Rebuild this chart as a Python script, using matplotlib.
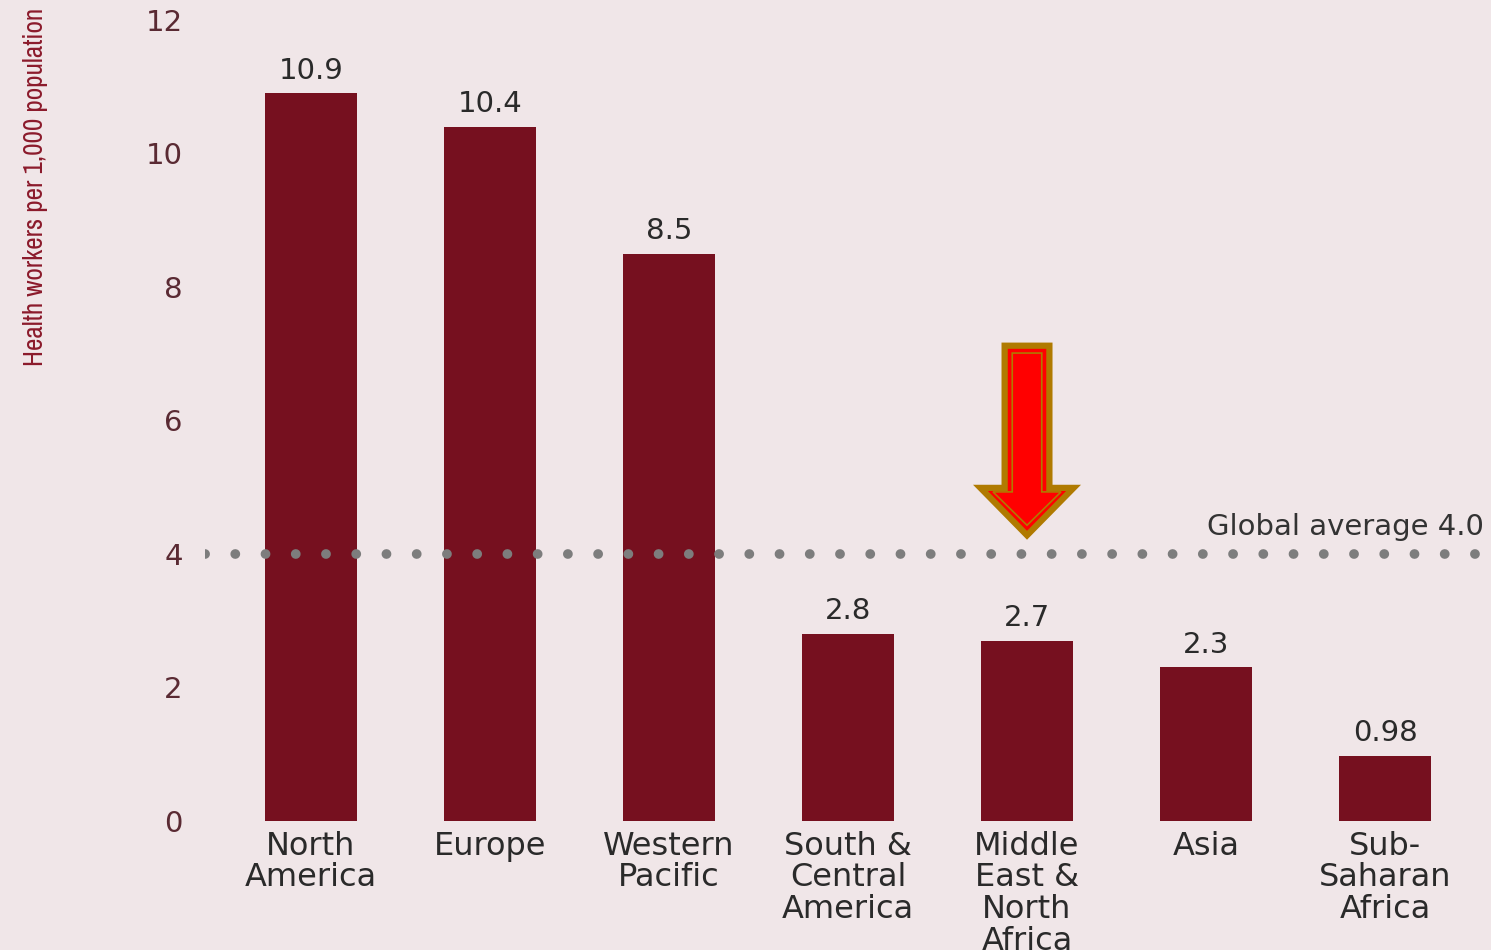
import matplotlib.pyplot as plt
import matplotlib.patches as mpatches
from matplotlib import font_manager

regions = ['North\nAmerica', 'Europe', 'Western\nPacific', 'South &\nCentral\nAmerica',
           'Middle\nEast &\nNorth\nAfrica', 'Asia', 'Sub-\nSaharan\nAfrica']
workers = [10.9, 10.4, 8.5, 2.8, 2.7, 2.3, 0.98]
value_text = ['10.9', '10.4', '8.5', '2.8', '2.7', '2.3', '0.98']
global_avg = 4.0
yticks = [0, 2, 4, 6, 8, 10, 12]

bg = '#f0e6e8'
bar_col = '#76101f'

# narrow face for the axis title, if one is installed
narrow = [f.name for f in font_manager.fontManager.ttflist
          if 'Narrow' in f.name or 'Condensed' in f.name]
if narrow:
    ylab_font, ylab_size = [sorted(narrow)[0], 'DejaVu Sans'], 19.5
else:
    ylab_font, ylab_size = ['Liberation Sans', 'DejaVu Sans'], 14

fig = plt.figure(figsize=(14.91, 9.5), dpi=100, facecolor=bg)
ax = fig.add_axes([0.1375, 0.1358, 0.8625, 0.8432], facecolor=bg)

x = list(range(len(regions)))
ax.bar(x, workers, width=0.51, color=bar_col, zorder=2)

for xi, v, t in zip(x, workers, value_text):
    ax.text(xi, v + 0.13, t, ha='center', va='bottom', fontsize=21,
            color='#2a2a2a', family='DejaVu Sans')

# global average line
ax.axhline(global_avg, color='#7d7d7d', lw=7, linestyle=(0, (0.01, 3.1)),
           dash_capstyle='round', zorder=3)
ax.text(6.55, global_avg + 0.2, 'Global average 4.0', ha='right', va='bottom',
        fontsize=21, color='#333333', family='DejaVu Sans')

# arrow pointing down at Middle East & North Africa
ax.add_patch(mpatches.FancyArrow(4, 7.12, 0, -2.84, width=0.25, head_width=0.52,
                                 head_length=0.71, length_includes_head=True,
                                 facecolor='#ff0000', edgecolor='#b07a00', lw=4.5,
                                 joinstyle='miter', zorder=4))
ax.add_patch(mpatches.FancyArrow(4, 7.01, 0, -2.58, width=0.165, head_width=0.38,
                                 head_length=0.5, length_includes_head=True,
                                 facecolor='none', edgecolor='#b07a00', lw=1.2,
                                 joinstyle='miter', zorder=5))

ax.set_xlim(-0.592, 6.592)
ax.set_ylim(0, 12)
ax.set_yticks(yticks)
ax.set_yticklabels([str(t) for t in yticks], fontsize=21, color='#5a2a33',
                   family='DejaVu Sans')
ax.set_xticks(x)
ax.set_xticklabels(regions, fontsize=23, color='#2a2a2a', family='DejaVu Sans',
                   linespacing=1.03)
ax.tick_params(axis='y', length=0, pad=16)
ax.tick_params(axis='x', length=0, pad=7)
for s in ax.spines.values():
    s.set_visible(False)

fig.text(0.0235, 0.803, 'Health workers per 1,000 population', rotation=90,
         ha='center', va='center', fontsize=ylab_size, color='#8b1a2b',
         family=ylab_font)

fig.savefig('out.png', dpi=100, facecolor=bg)
